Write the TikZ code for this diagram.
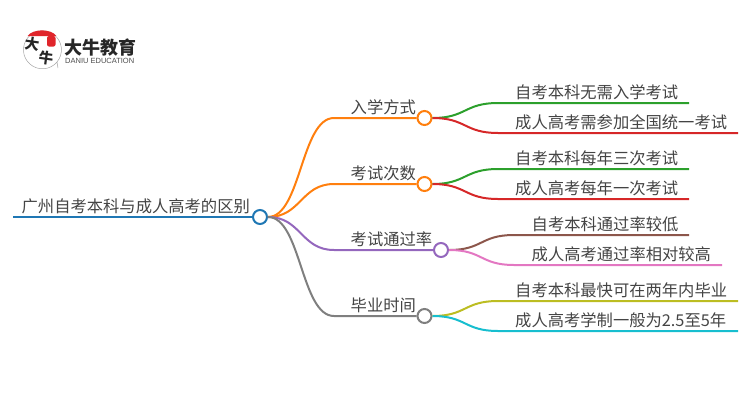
\documentclass[tikz,border=0pt]{standalone}
\usepackage{fontspec}
\setmainfont{Noto Sans CJK SC}
\setsansfont{Liberation Sans}
\usepackage{xcolor}
\definecolor{ink}{HTML}{444444}
\definecolor{cblue}{HTML}{1F77B4}
\definecolor{corange}{HTML}{FF7F0E}
\definecolor{cgreen}{HTML}{2CA02C}
\definecolor{cred}{HTML}{D62728}
\definecolor{cpurple}{HTML}{9467BD}
\definecolor{cbrown}{HTML}{8C564B}
\definecolor{cpink}{HTML}{E377C2}
\definecolor{cgray}{HTML}{7F7F7F}
\definecolor{colive}{HTML}{BCBD22}
\definecolor{ccyan}{HTML}{17BECF}
\definecolor{logored}{HTML}{E0252B}
\tikzset{
  link/.style={draw=#1, line width=2pt},
  dot/.style={circle, draw=#1, fill=white, line width=2pt, minimum size=14pt, inner sep=0pt},
  lab/.style={anchor=base west, inner sep=0pt, text=ink, font=\fontsize{16.3pt}{16.3pt}\selectfont},
  brush/.style={inner sep=0pt, text=black!85, font=\fontsize{14.5pt}{14.5pt}\selectfont\bfseries},
}
\begin{document}
\begin{tikzpicture}[x=1pt,y=-1pt]
  \useasboundingbox (0,0) rectangle (750,410);

  % logo
  \draw[draw=black!35, line width=0.5pt, fill=white] (57,62) arc[start angle=40, end angle=400, radius=19] -- (58,68) -- cycle;
  \fill[logored] (27.5,36) .. controls (33,28.5) and (51,28.5) .. (56.5,36) -- cycle;
  \fill[logored, rounded corners=2pt] (47,36) rectangle (55.5,46.5);
  \node[brush, rotate=-8] (logoda) at (32,44.5) {大};
  \node[brush, rotate=-8] (logoniu) at (46,58.5) {牛};
  \node[anchor=west, inner sep=0pt, text=black!85, font=\fontsize{18pt}{18pt}\selectfont\bfseries] (logoname) at (64,48) {大牛教育};
  \node[anchor=west, inner sep=0pt, text=black!70, font=\sffamily\fontsize{7.5pt}{7.5pt}\selectfont] (logosub) at (65,60.5) {DANIU EDUCATION};

  % root and branches
  \node[dot=cblue] (root) at (260,217) {};
  \node[dot=corange] (way) at (424.5,118) {};
  \node[dot=corange] (times) at (424.5,184) {};
  \node[dot=cpurple] (rate) at (441,250) {};
  \node[dot=cgray] (grad) at (424.5,316) {};

  \coordinate (rootend) at (13,217);
  \draw[link=cblue] (rootend) -- (root.west);
  \draw[link=corange] (root.east) .. controls +(33,0) and +(-33,0) .. (334,118) -- (way.west);
  \draw[link=corange] (root.east) .. controls +(33,0) and +(-33,0) .. (334,184) -- (times.west);
  \draw[link=cpurple] (root.east) .. controls +(33,0) and +(-33,0) .. (334,250) -- (rate.west);
  \draw[link=cgray] (root.east) .. controls +(33,0) and +(-33,0) .. (334,316) -- (grad.west);

  % free ends of the leaves
  \coordinate (way1) at (689,103);
  \coordinate (way2) at (738,133);
  \coordinate (times1) at (689,169);
  \coordinate (times2) at (689,199);
  \coordinate (rate1) at (689,235);
  \coordinate (rate2) at (722,265);
  \coordinate (grad1) at (738,301);
  \coordinate (grad2) at (738,331);

  \draw[link=cgreen] (way.east) .. controls +(34,0) and +(-34,0) .. (498,103) -- (way1);
  \draw[link=cred] (way.east) .. controls +(34,0) and +(-34,0) .. (498,133) -- (way2);
  \draw[link=cgreen] (times.east) .. controls +(34,0) and +(-34,0) .. (498,169) -- (times1);
  \draw[link=cred] (times.east) .. controls +(34,0) and +(-34,0) .. (498,199) -- (times2);
  \draw[link=cbrown] (rate.east) .. controls +(34,0) and +(-34,0) .. (514,235) -- (rate1);
  \draw[link=cpink] (rate.east) .. controls +(34,0) and +(-34,0) .. (514,265) -- (rate2);
  \draw[link=colive] (grad.east) .. controls +(34,0) and +(-34,0) .. (498,301) -- (grad1);
  \draw[link=ccyan] (grad.east) .. controls +(34,0) and +(-34,0) .. (498,331) -- (grad2);

  % texts
  \node[lab] (roottext) at (21.5,212) {广州自考本科与成人高考的区别};
  \node[lab] (waytext) at (350.5,113) {入学方式};
  \node[lab] (timestext) at (350.5,179) {考试次数};
  \node[lab] (ratetext) at (350.5,245) {考试通过率};
  \node[lab] (gradtext) at (350.5,311) {毕业时间};
  \node[lab] (way1text) at (515,98) {自考本科无需入学考试};
  \node[lab] (way2text) at (515,128) {成人高考需参加全国统一考试};
  \node[lab] (times1text) at (515,164) {自考本科每年三次考试};
  \node[lab] (times2text) at (515,194) {成人高考每年一次考试};
  \node[lab] (rate1text) at (531.5,230) {自考本科通过率较低};
  \node[lab] (rate2text) at (531.5,260) {成人高考通过率相对较高};
  \node[lab] (grad1text) at (515,296) {自考本科最快可在两年内毕业};
  \node[lab] (grad2text) at (515,326) {成人高考学制一般为2.5至5年};
\end{tikzpicture}
\end{document}
